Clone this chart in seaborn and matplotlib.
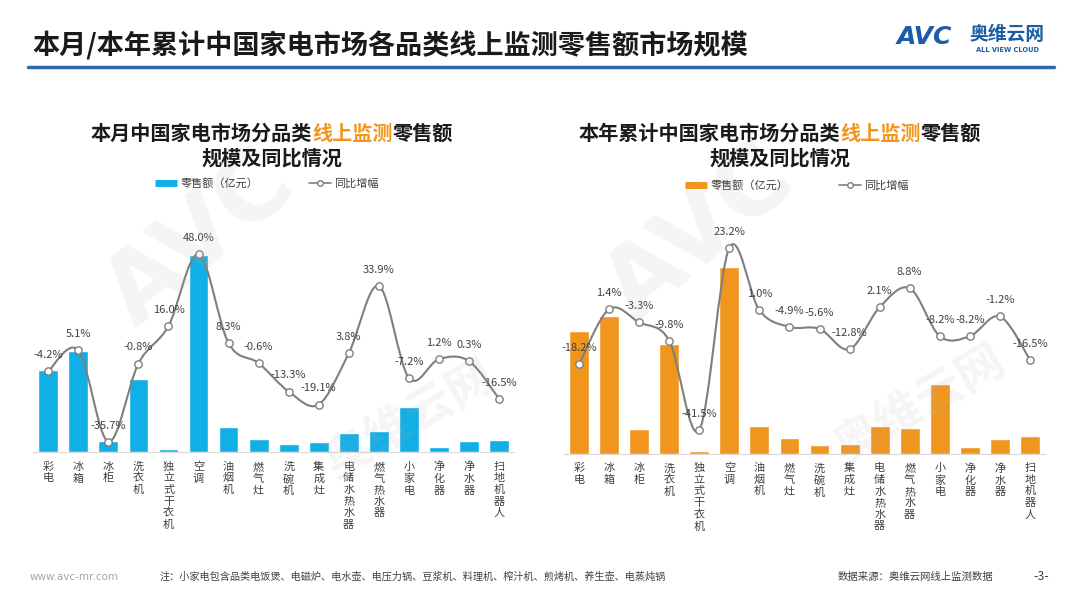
import numpy as np
import pandas as pd
import matplotlib
matplotlib.use("Agg")
import matplotlib.pyplot as plt
import seaborn as sns
from matplotlib.path import Path
from matplotlib.patches import PathPatch
from matplotlib.lines import Line2D

sns.set_style("white")
plt.rcParams['font.family'] = ['Noto Sans CJK SC', 'DejaVu Sans']

# categories (same for both charts)
categories = ['彩电', '冰箱', '冰柜', '洗衣机', '独立式干衣机', '空调', '油烟机', '燃气灶',
              '洗碗机', '集成灶', '电储水热水器', '燃气热水器', '小家电', '净化器', '净水器', '扫地机器人']

# monthly retail sales (relative) and YoY growth (%)
month_sales = [82, 101, 11, 73, 2.7, 197, 24.7, 13, 8, 9.7, 19.3, 21.3, 45, 5.3, 11, 12]
month_yoy = [-4.2, 5.1, -35.7, -0.8, 16.0, 48.0, 8.3, -0.6, -13.3, -19.1, 3.8, 33.9, -7.2, 1.2, 0.3, -16.5]

# year-to-date retail sales (relative) and YoY growth (%)
ytd_sales = [123, 137.3, 24.7, 110, 3, 186.3, 28, 16, 9, 10, 27.7, 25.3, 70, 6.7, 14.3, 17.3]
ytd_yoy = [-18.2, 1.4, -3.3, -9.8, -41.5, 23.2, 1.0, -4.9, -5.6, -12.8, 2.1, 8.8, -8.2, -8.2, -1.2, -16.5]

BLUE = '#12aee6'
ORANGE = '#f0961e'
GRAY = '#7f7f7f'
TXT = '#404040'

W, H = 1080, 608
fig = plt.figure(figsize=(10.8, 6.08), dpi=100)


def fx(px):
    return px / W


def fy(py):
    return 1 - py / H


def smooth_path(xs, ys):
    # catmull-rom style bezier like excel's smoothed line
    pts = np.column_stack([xs, ys]).astype(float)
    n = len(pts)
    verts = [pts[0]]
    codes = [Path.MOVETO]
    for i in range(n - 1):
        p0 = pts[i - 1] if i > 0 else pts[i]
        p1 = pts[i]
        p2 = pts[i + 1]
        p3 = pts[i + 2] if i + 2 < n else pts[i + 1]
        c1 = p1 + (p2 - p0) / 6
        c2 = p2 - (p3 - p1) / 6
        verts += [c1, c2, p2]
        codes += [Path.CURVE4] * 3
    return Path(verts, codes)


def draw_panel(left, right, base, top, sales, yoy, color, bar_max, yoy_lim):
    ax = fig.add_axes([fx(left), fy(base), fx(right - left), (base - top) / H])
    df = pd.DataFrame({'品类': categories, '零售额': sales})
    sns.barplot(data=df, x='品类', y='零售额', color=color, width=0.66,
                saturation=1, ax=ax, zorder=2)
    ax.set_ylim(0, bar_max)
    ax.set_xlim(-0.5, len(categories) - 0.5)
    ax.set_xlabel('')
    ax.set_ylabel('')
    ax.set_yticks([])
    ax.set_xticks(range(len(categories)))
    ax.set_xticklabels(['\n'.join(c) for c in categories], fontsize=8,
                       color=TXT, linespacing=1.2, va='top')
    ax.tick_params(axis='x', length=0, pad=7)
    for s in ['top', 'right', 'left']:
        ax.spines[s].set_visible(False)
    ax.spines['bottom'].set_color('#d9d9d9')
    ax.patch.set_alpha(0)

    ax2 = ax.twinx()
    ax2.set_ylim(*yoy_lim)
    xs = np.arange(len(yoy))
    ax2.add_patch(PathPatch(smooth_path(xs, yoy), facecolor='none',
                            edgecolor=GRAY, lw=1.5, zorder=3))
    sns.scatterplot(x=xs, y=yoy, ax=ax2, s=28, color='white',
                    edgecolor=GRAY, linewidth=1, zorder=4)
    for i, v in enumerate(yoy):
        ax2.annotate(f'{v:.1f}%', (i, v), xytext=(0, 8), textcoords='offset points',
                     ha='center', va='bottom', fontsize=8, color=TXT, zorder=5)
    ax2.set_yticks([])
    ax2.set_ylabel('')
    for s in ax2.spines.values():
        s.set_visible(False)
    return ax


# panels
draw_panel(33.3, 514, 452, 235, month_sales, month_yoy, BLUE, 217, (-40.3, 56.6))
draw_panel(564, 1045, 453.5, 235, ytd_sales, ytd_yoy, ORANGE, 218.5, (-49.8, 27.7))

# chart titles with highlighted words
renderer = fig.canvas.get_renderer()
for cx, prefix in [(272, '本月中国家电市场分品类'), (780, '本年累计中国家电市场分品类')]:
    parts = [(prefix, '#1a1a1a'), ('线上监测', ORANGE), ('零售额', '#1a1a1a')]
    full = ''.join(p for p, _ in parts)
    t = fig.text(fx(cx), fy(133), full, ha='center', va='center', fontsize=14.5,
                 fontweight='bold')
    x0 = t.get_window_extent(renderer).x0
    t.remove()
    for p, c in parts:
        tt = fig.text(x0 / W, fy(133), p, ha='left', va='center', fontsize=14.5,
                      fontweight='bold', color=c)
        x0 = tt.get_window_extent(renderer).x1
    fig.text(fx(cx), fy(158), '规模及同比情况', ha='center', va='center',
             fontsize=14.5, fontweight='bold', color='#1a1a1a')

# legends
for cx, cy, col in [(267, 183, BLUE), (797, 185, ORANGE)]:
    handles = [Line2D([], [], color=col, lw=5, solid_capstyle='butt'),
               Line2D([], [], color=GRAY, lw=1.2, marker='o', markersize=4,
                      markerfacecolor='white', markeredgecolor=GRAY)]
    fig.legend(handles, ['零售额（亿元）', '同比增幅'], loc='center',
               bbox_to_anchor=(fx(cx), fy(cy)), ncol=2, frameon=False,
               fontsize=8, handlelength=2, handletextpad=0.3, columnspacing=4.5,
               labelcolor=TXT)

# page title and rule
fig.text(fx(32), fy(46), '本月/本年累计中国家电市场各品类线上监测零售额市场规模',
         ha='left', va='center', fontsize=19.5, fontweight='bold', color='#1a1a1a')
fig.add_artist(Line2D([fx(28), fx(1054)], [fy(66.5), fy(66.5)], color='#2e6aa8', lw=2.5))

# logo
fig.text(fx(924), fy(37), 'AVC', ha='center', va='center', fontsize=18,
         fontweight='bold', fontstyle='italic', color='#1c5ba6', family='DejaVu Sans')
fig.text(fx(1007), fy(35), '奥维云网', ha='center', va='center', fontsize=13.5,
         fontweight='bold', color='#1c5ba6')
fig.text(fx(1007), fy(50), 'ALL VIEW CLOUD', ha='center', va='center', fontsize=4.8,
         fontweight='bold', color='#1c5ba6', family='DejaVu Sans')

# faint watermarks
for x, y in [(200, 240), (700, 235)]:
    fig.text(fx(x), fy(y), 'AVC', ha='center', va='center', fontsize=70,
             fontweight='bold', color='#b0b0b0', alpha=0.13, rotation=40, zorder=0,
             family='DejaVu Sans')
for x, y in [(410, 420), (920, 405)]:
    fig.text(fx(x), fy(y), '奥维云网', ha='center', va='center', fontsize=34,
             fontweight='bold', color='#b0b0b0', alpha=0.12, rotation=30, zorder=0)

# footer
fig.text(fx(30), fy(577), 'www.avc-mr.com', ha='left', va='center', fontsize=7.5,
         color='#a6a6a6', family='DejaVu Sans')
fig.text(fx(160), fy(577), '注：小家电包含品类电饭煲、电磁炉、电水壶、电压力锅、豆浆机、料理机、榨汁机、煎烤机、养生壶、电蒸炖锅',
         ha='left', va='center', fontsize=7.3, color=TXT)
fig.text(fx(838), fy(577), '数据来源：奥维云网线上监测数据', ha='left', va='center',
         fontsize=7.5, color=TXT)
fig.text(fx(1041), fy(577), '-3-', ha='center', va='center', fontsize=9, color=TXT)

fig.savefig('out.png', dpi=100, facecolor='white')
